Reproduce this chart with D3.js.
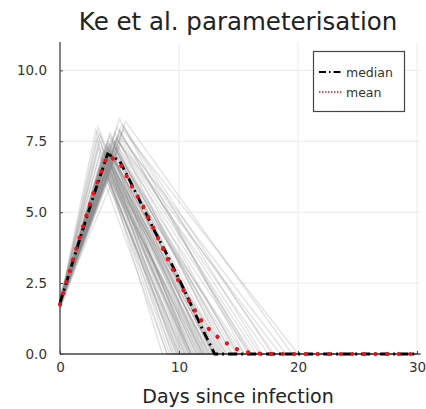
<!DOCTYPE html>
<html>
<head>
<meta charset="utf-8">
<script src="https://cdn.jsdelivr.net/npm/d3@7"></script>
<style>
  html, body { margin: 0; padding: 0; background: #fff; }
  svg { display: block; font-family: "DejaVu Sans", sans-serif; }
</style>
</head>
<body>
<svg id="chart" width="426" height="409"></svg>
<script>
// ---- data ----
const title = "Ke et al. parameterisation";
const xLabel = "Days since infection";
const xTicks = [0, 10, 20, 30];
const yTicks = [0, 2.5, 5, 7.5, 10];
const days = d3.range(0, 31);

// median trajectory (days 0..30)
const medianValues = [1.8, 3.15, 4.5, 5.8, 7.05, 6.82, 6.0, 5.15, 4.3, 3.5, 2.65, 1.75, 0.85, 0,
  0, 0, 0, 0, 0, 0, 0, 0, 0, 0, 0, 0, 0, 0, 0, 0, 0];
// mean trajectory (days 0..30)
const meanValues = [1.75, 3.2, 4.6, 5.9, 7.0, 6.75, 5.95, 5.2, 4.3, 3.4, 2.55, 1.75, 1.1, 0.68,
  0.38, 0.14, 0.04, 0.01, 0, 0, 0, 0, 0, 0, 0, 0, 0, 0, 0, 0, 0];

// individual trajectories: start value, peak day, peak value, day reaching zero
const trajStart = [1.8,1.7,1.9,1.8,1.75,1.85,1.7,1.8,1.9,1.65,1.8,1.75,1.85,1.6,1.8,1.95,1.8,1.75,1.85,1.8,
  1.7,1.9,1.8,1.75,1.8,1.85,1.8,1.7,1.9,1.8,1.65,1.8,1.55,1.85,1.8,1.7,1.8,2.0,1.8,1.75,
  1.8,1.85,1.7,1.8,1.9,1.8,1.75,1.8,1.85,2.1,
  1.75,1.8,1.85,1.7,1.8,1.9,1.8,1.75,1.8,1.85,1.7,1.8,1.9,1.8,1.75,1.8,1.85,1.7,1.8,1.9,
  1.8,1.75,1.8,1.85,1.7,1.8,1.9,1.8,1.75,1.8,1.85,1.7,1.8,1.9,1.8,1.75,1.8,1.85,1.7,1.8];
const trajPeakDay = [4,4,4.2,3.8,4,4.5,3.5,4,4.3,3.7,4.1,4.4,3.9,4,3.6,3.3,3.0,3.2,3.4,5.0,
  5.2,4.8,5.5,5.0,4.7,4.6,4.5,5.3,4.9,4.2,4.0,3.8,4.1,3.7,4.3,3.9,4.6,4.0,3.5,4.4,
  3.9,4.2,4.7,5.1,3.6,4.1,3.8,4.3,4.8,4.0,
  3.8,4.0,3.6,4.2,3.9,4.1,3.4,3.1,3.2,4.5,4.3,4.6,4.0,3.7,4.4,4.8,4.2,5.0,5.4,4.9,
  3.5,4.0,4.1,3.8,4.2,4.5,3.9,4.7,4.3,3.6,5.2,4.0,3.3,4.6,4.4,3.7,4.9,4.1,3.8,4.2];
const trajPeakVal = [7.0,6.8,7.2,6.9,7.3,7.5,6.6,6.4,7.1,6.7,6.9,7.4,7.0,6.2,6.5,7.0,7.9,8.0,7.7,8.3,
  8.1,8.0,8.2,7.8,7.6,7.3,7.0,7.9,7.5,6.6,6.3,6.0,6.2,7.2,7.6,7.4,7.8,7.5,7.3,6.8,
  6.5,7.7,7.1,7.4,6.9,7.2,7.1,6.7,7.2,6.9,
  6.8,7.0,6.9,6.5,7.2,7.4,7.5,7.6,7.3,6.9,7.0,7.3,6.6,6.3,6.1,7.6,7.8,7.9,8.0,7.7,
  6.8,7.3,7.1,7.0,7.4,7.2,6.7,7.0,6.4,7.1,7.6,6.9,7.8,7.5,7.0,6.6,7.3,7.2,7.0,6.8];
const trajEndDay = [12.5,12,13,11.5,13.5,14,10.5,11,12.8,11.8,13.2,14.5,12.2,10,9.5,9.8,10.5,11,10.2,15.5,
  17,16,19.5,18,16.5,15,14.8,20,17.5,13,12,9,9.8,11.2,12.8,11.8,13.8,10.8,10,15.5,
  14,12.2,16,18.5,11,11.6,12.6,13.4,14.2,10.6,
  9.2,9.6,10.3,10.8,11.4,11.9,9.4,8.6,9.0,12.4,13.6,12.9,11.3,10.4,11.7,14.9,13.1,15.8,17.8,16.8,
  10.9,12.0,11.0,12.3,13.0,13.7,11.5,15.2,12.7,10.1,19.0,12.1,10.7,14.4,13.3,9.9,16.2,12.5,11.1,12.9];

// ---- layout ----
const svg = d3.select("#chart");
const W = 426, H = 409;
const x = d3.scaleLinear().domain([0, 30]).range([60, 417]);
const y = d3.scaleLinear().domain([0, 11]).range([354, 42]);

// grid
const g = svg.append("g");
g.selectAll("line.gx").data(xTicks.slice(1)).join("line")
  .attr("x1", d => x(d)).attr("x2", d => x(d))
  .attr("y1", y(0)).attr("y2", y(11))
  .attr("stroke", "#ebebeb").attr("stroke-width", 1);
g.selectAll("line.gy").data(yTicks.slice(1)).join("line")
  .attr("x1", x(0)).attr("x2", x(30.3))
  .attr("y1", d => y(d)).attr("y2", d => y(d))
  .attr("stroke", "#ebebeb").attr("stroke-width", 1);

// trajectories
const line = d3.line().x(d => x(d[0])).y(d => y(d[1]));
const trajs = trajStart.map((s, i) => [[0, s], [trajPeakDay[i], trajPeakVal[i]], [trajEndDay[i], 0], [30, 0]]);
svg.append("g").selectAll("path").data(trajs).join("path")
  .attr("d", line)
  .attr("fill", "none")
  .attr("stroke", "#8a8a8a")
  .attr("stroke-opacity", 0.25)
  .attr("stroke-width", 1.3);

// axes
const xAxis = d3.axisBottom(x).tickValues(xTicks).tickSize(-3).tickPadding(8).tickFormat(d3.format("d"));
const yAxis = d3.axisLeft(y).tickValues(yTicks).tickSize(-3).tickPadding(13).tickFormat(d3.format(".1f"));
const gx = svg.append("g").attr("transform", `translate(0,${y(0)})`).call(xAxis);
const gy = svg.append("g").attr("transform", `translate(${x(0)},0)`).call(yAxis);
[gx, gy].forEach(a => {
  a.select(".domain").attr("stroke", "#444").attr("stroke-width", 1.3);
  a.selectAll(".tick line").attr("stroke", "#444");
  a.selectAll(".tick text").attr("fill", "#333").style("font-size", "13.5px").style("font-family", "DejaVu Sans, sans-serif");
});
gx.select(".domain").attr("d", `M${x(0)},0H${x(30.3)}`);
gy.select(".domain").attr("d", `M0,${y(0)}V${y(11)}`);

// median & mean
const medLine = d3.line().x((d, i) => x(days[i])).y(d => y(d));
svg.append("path").attr("d", medLine(medianValues))
  .attr("fill", "none").attr("stroke", "#000").attr("stroke-width", 2.8)
  .attr("stroke-dasharray", "9 4 2 4");
svg.append("path").attr("d", medLine(meanValues))
  .attr("fill", "none").attr("stroke", "#e8141b").attr("stroke-width", 4.2)
  .attr("stroke-linecap", "round").attr("stroke-dasharray", "0.1 11.5");

// title & label
svg.append("text").attr("x", 238).attr("y", 30).attr("text-anchor", "middle")
  .style("font-size", "24.5px").attr("fill", "#222").text(title);
svg.append("text").attr("x", 238).attr("y", 403).attr("text-anchor", "middle")
  .style("font-size", "19px").attr("fill", "#222").text(xLabel);

// legend
const lg = svg.append("g");
lg.append("rect").attr("x", 313.5).attr("y", 51.5).attr("width", 91).attr("height", 60)
  .attr("fill", "#fff").attr("stroke", "#444").attr("stroke-width", 1.2);
const legendItems = [
  { name: "median", color: "#000", dash: "7 3 1.5 3", w: 2.2 },
  { name: "mean", color: "#e8141b", dash: "1.5 1.5", w: 1.3 }
];
legendItems.forEach((it, i) => {
  const yy = 72 + i * 20;
  lg.append("line").attr("x1", 319).attr("x2", 343).attr("y1", yy).attr("y2", yy)
    .attr("stroke", it.color).attr("stroke-width", it.w).attr("stroke-dasharray", it.dash);
  lg.append("text").attr("x", 346).attr("y", yy + 4.5)
    .style("font-size", "12.5px").attr("fill", "#333").text(it.name);
});
</script>
</body>
</html>
